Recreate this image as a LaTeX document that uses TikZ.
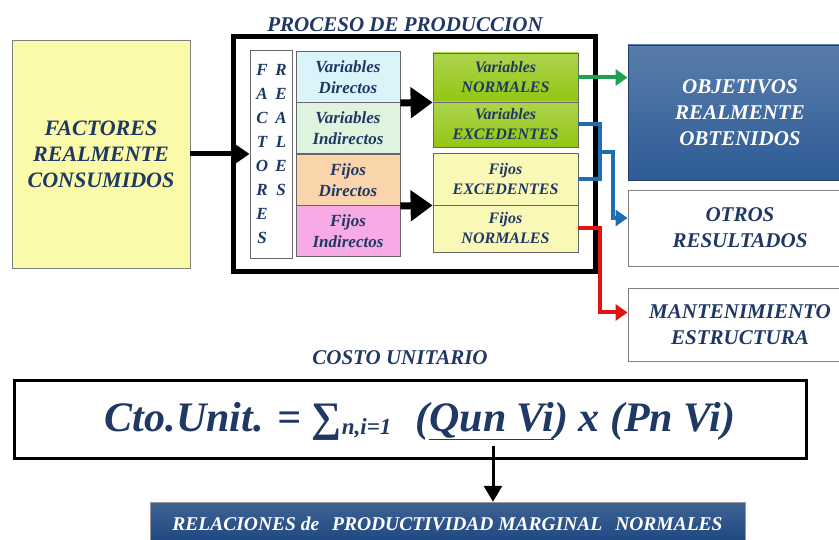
\documentclass[tikz,border=0pt]{standalone}
\usepackage{fontspec}
\setmainfont{Liberation Serif}[BoldItalicFont={Liberation Serif Bold Italic}, BoldFont={Liberation Serif Bold}, ItalicFont={Liberation Serif Italic}]
\usetikzlibrary{arrows.meta}
\definecolor{navy}{RGB}{31,56,100}
\definecolor{softyellow}{RGB}{250,250,168}
\definecolor{paleyellow}{RGB}{250,248,182}
\definecolor{vgreen}{RGB}{146,198,18}
\definecolor{paleblue}{RGB}{218,244,250}
\definecolor{palegreen}{RGB}{222,244,222}
\definecolor{paleorange}{RGB}{250,212,170}
\definecolor{palepink}{RGB}{248,170,228}
\definecolor{objblue}{RGB}{46,92,150}
\definecolor{darkblue}{RGB}{28,70,128}
\definecolor{arrowgreen}{RGB}{30,160,80}
\definecolor{arrowblue}{RGB}{30,110,180}
\definecolor{arrowred}{RGB}{225,20,20}
\newcommand{\boldit}{\bfseries\itshape}

\begin{document}
\begin{tikzpicture}[x=1pt, y=-1pt,
    every node/.style={font=\boldit, text=navy, align=center, inner sep=0pt},
    cell/.style={draw=black!60, thick, minimum width=104, minimum height=51,
      font=\boldit\fontsize{17}{21}\selectfont},
    outcell/.style={draw=black!60, thick, minimum width=145,
      font=\boldit\fontsize{16}{20}\selectfont},
    resbox/.style={draw=black!50, thick, fill=white, minimum width=224,
      font=\boldit\fontsize{21}{26}\selectfont},
    bigarrow/.style={line width=7, -{Triangle[length=22pt, width=30pt]}},
    colarrow/.style={line width=4, -{Triangle[length=12pt, width=16pt]}}]
  \useasboundingbox (0,0) rectangle (839,540);

  \node [draw=black!50, thick, fill=softyellow, minimum width=178, minimum height=228,
    font=\boldit\fontsize{22}{26}\selectfont] (cons) at (101,154)
    {FACTORES\\REALMENTE\\CONSUMIDOS};

  \node [font=\boldit\fontsize{21}{21}\selectfont] (title) at (405,25) {PROCESO DE PRODUCCION};
  \node [draw, line width=5, minimum width=362, minimum height=235] (frame) at (414,154.5) {};

  \node [draw=black!60, thick, fill=white, minimum width=42, minimum height=208] (colbox) at (271,154) {};
  \node [font=\boldit\fontsize{17}{24}\selectfont] (colF) at (262,154) {F\\A\\C\\T\\O\\R\\E\\S};
  \node [font=\boldit\fontsize{17}{24}\selectfont] (colR) at (281,130) {R\\E\\A\\L\\E\\S};

  \node [cell, fill=paleblue] (vd) at (348,77) {Variables\\Directos};
  \node [cell, fill=palegreen] (vi) at (348,128) {Variables\\Indirectos};
  \node [cell, fill=paleorange] (fd) at (348,180) {Fijos\\Directos};
  \node [cell, fill=palepink] (fi) at (348,231) {Fijos\\Indirectos};

  \node [outcell, top color=vgreen!75!white, bottom color=vgreen, minimum height=49] (vn) at (505.5,77.5) {Variables\\NORMALES};
  \node [outcell, top color=vgreen!75!white, bottom color=vgreen, minimum height=45] (ve) at (505.5,124.5) {Variables\\EXCEDENTES};
  \node [outcell, fill=paleyellow, minimum height=52] (fe) at (505.5,179) {Fijos\\EXCEDENTES};
  \node [outcell, fill=paleyellow, minimum height=47] (fn) at (505.5,228.5) {Fijos\\NORMALES};

  \draw [line width=5, -{Triangle[length=14pt, width=18pt]}] (cons.east) -- (colbox.west);
  \draw [bigarrow] (vd.south east) -- (vn.south west);
  \draw [bigarrow] (fd.south east) -- (fe.south west);

  \node [resbox, top color=objblue!80!white, bottom color=objblue, draw=objblue!70!black,
    minimum height=135, text=white] (obj) at (740,112.5) {OBJETIVOS\\REALMENTE\\OBTENIDOS};
  \node [resbox, minimum height=76] (otros) at (740,228) {OTROS\\RESULTADOS};
  \node [resbox, minimum height=73] (mant) at (740,324.5) {MANTENIMIENTO\\ESTRUCTURA};

  \draw [colarrow, arrowgreen] (vn.east) -- (vn.east -| obj.west);
  \coordinate (bsplit) at (600,152);
  \draw [line width=4, arrowblue] (ve.east) -- ++(22,0) |- (fe.east);
  \draw [colarrow, arrowblue] (bsplit) -- ++(13,0) |- ([yshift=10pt]otros.west);
  \draw [colarrow, arrowred] (fn.east) -- ++(22,0) |- ([yshift=12pt]mant.west);

  \node [font=\boldit\fontsize{21}{21}\selectfont] (costo) at (400,358) {COSTO UNITARIO};
  \node [draw, line width=3, minimum width=792, minimum height=77] (fbox) at (410,419.5) {};
  \node [font=\boldit\fontsize{42}{42}\selectfont] (formula) at (420,421)
    {Cto.Unit. = ∑\raisebox{-3pt}{\fontsize{23}{23}\selectfont n,i=1}\hspace{24pt}(\underline{Qun Vi}) x (Pn Vi)};

  \node [top color=darkblue!85!white, bottom color=darkblue, draw=black!40, minimum width=595,
    minimum height=44, text=white, font=\boldit\fontsize{19.5}{19.5}\selectfont] (rel) at (447.5,524)
    {RELACIONES de\hspace{8pt} PRODUCTIVIDAD MARGINAL\hspace{8pt} NORMALES};
  \coordinate (qv) at (493,446);
  \draw [line width=3, -{Triangle[length=16pt, width=18pt]}] (qv) -- (qv |- rel.north);
\end{tikzpicture}
\end{document}
